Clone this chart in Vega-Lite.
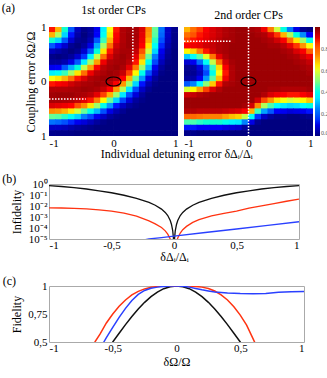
{
"$schema":"https://vega.github.io/schema/vega-lite/v6.json",
"padding":{"left":1,"right":0,"top":2,"bottom":1},
"config":{"font":"Liberation Serif","view":{"stroke":null},
 "axis":{"labelFont":"Liberation Serif","titleFont":"Liberation Serif","labelFontSize":11,"titleFontSize":12,"titleFontWeight":"normal","labelColor":"#000","titleColor":"#000","domainColor":"#999","tickColor":"#999","grid":false},
 "title":{"font":"Liberation Serif","fontSize":12,"fontWeight":"normal","color":"#000"}},
"title":{"text":"(a)","anchor":"start","fontSize":12,"offset":0,"dy":11},
"resolve":{"scale":{"color":"independent"}},
"align":"none",
"spacing":12,
"datasets":{
"h1":[
{"y":0.95,"x":[-0.95,-0.85,-0.75,-0.65,-0.55,-0.45,-0.35,-0.25,-0.15,-0.05,0.05,0.15,0.25,0.35,0.45,0.55,0.65,0.75,0.85,0.95],"v":[0.87,0.70,0.43,0.19,0.06,0.01,0.03,0.11,0.36,0.62,0.87,0.95,0.965,0.96,0.91,0.74,0.48,0.23,0.07,0.015]},
{"y":0.85,"x":[-0.95,-0.85,-0.75,-0.65,-0.55,-0.45,-0.35,-0.25,-0.15,-0.05,0.05,0.15,0.25,0.35,0.45,0.55,0.65,0.75,0.85,0.95],"v":[0.70,0.55,0.33,0.13,0.04,0.0,0.03,0.12,0.39,0.65,0.88,0.95,0.97,0.96,0.90,0.73,0.47,0.21,0.07,0.01]},
{"y":0.75,"x":[-0.95,-0.85,-0.75,-0.65,-0.55,-0.45,-0.35,-0.25,-0.15,-0.05,0.05,0.15,0.25,0.35,0.45,0.55,0.65,0.75,0.85,0.95],"v":[0.43,0.33,0.19,0.08,0.02,0.01,0.05,0.19,0.45,0.70,0.89,0.95,0.97,0.955,0.89,0.70,0.44,0.18,0.06,0.01]},
{"y":0.65,"x":[-0.95,-0.85,-0.75,-0.65,-0.55,-0.45,-0.35,-0.25,-0.15,-0.05,0.05,0.15,0.25,0.35,0.45,0.55,0.65,0.75,0.85,0.95],"v":[0.19,0.13,0.08,0.02,0.0,0.03,0.10,0.29,0.54,0.78,0.92,0.955,0.97,0.95,0.875,0.65,0.39,0.14,0.045,0.006]},
{"y":0.55,"x":[-0.95,-0.85,-0.75,-0.65,-0.55,-0.45,-0.35,-0.25,-0.15,-0.05,0.05,0.15,0.25,0.35,0.45,0.55,0.65,0.75,0.85,0.95],"v":[0.06,0.04,0.02,0.0,0.02,0.08,0.19,0.42,0.65,0.87,0.94,0.96,0.96,0.93,0.82,0.58,0.33,0.11,0.03,0]},
{"y":0.45,"x":[-0.95,-0.85,-0.75,-0.65,-0.55,-0.45,-0.35,-0.25,-0.15,-0.05,0.05,0.15,0.25,0.35,0.45,0.55,0.65,0.75,0.85,0.95],"v":[0.01,0.0,0.01,0.03,0.08,0.15,0.36,0.57,0.78,0.91,0.955,0.97,0.955,0.90,0.74,0.48,0.24,0.09,0.02,0]},
{"y":0.35,"x":[-0.95,-0.85,-0.75,-0.65,-0.55,-0.45,-0.35,-0.25,-0.15,-0.05,0.05,0.15,0.25,0.35,0.45,0.55,0.65,0.75,0.85,0.95],"v":[0.03,0.03,0.05,0.10,0.19,0.36,0.54,0.72,0.89,0.95,0.96,0.965,0.94,0.87,0.65,0.40,0.17,0.06,0.01,0]},
{"y":0.25,"x":[-0.95,-0.85,-0.75,-0.65,-0.55,-0.45,-0.35,-0.25,-0.15,-0.05,0.05,0.15,0.25,0.35,0.45,0.55,0.65,0.75,0.85,0.95],"v":[0.11,0.12,0.19,0.29,0.42,0.57,0.72,0.88,0.94,0.96,0.97,0.955,0.90,0.76,0.53,0.30,0.11,0.03,0,0]},
{"y":0.15,"x":[-0.95,-0.85,-0.75,-0.65,-0.55,-0.45,-0.35,-0.25,-0.15,-0.05,0.05,0.15,0.25,0.35,0.45,0.55,0.65,0.75,0.85,0.95],"v":[0.36,0.39,0.45,0.54,0.65,0.78,0.89,0.94,0.955,0.97,0.96,0.93,0.84,0.63,0.40,0.18,0.07,0.01,0,0]},
{"y":0.05,"x":[-0.95,-0.85,-0.75,-0.65,-0.55,-0.45,-0.35,-0.25,-0.15,-0.05,0.05,0.15,0.25,0.35,0.45,0.55,0.65,0.75,0.85,0.95],"v":[0.62,0.65,0.70,0.78,0.87,0.91,0.95,0.96,0.97,0.96,0.94,0.875,0.70,0.48,0.27,0.10,0.03,0,0,0]},
{"y":-0.05,"x":[-0.95,-0.85,-0.75,-0.65,-0.55,-0.45,-0.35,-0.25,-0.15,-0.05,0.05,0.15,0.25,0.35,0.45,0.55,0.65,0.75,0.85,0.95],"v":[0.87,0.88,0.89,0.92,0.94,0.955,0.96,0.97,0.96,0.94,0.88,0.73,0.53,0.33,0.13,0.05,0.01,0,0,0]},
{"y":-0.15,"x":[-0.95,-0.85,-0.75,-0.65,-0.55,-0.45,-0.35,-0.25,-0.15,-0.05,0.05,0.15,0.25,0.35,0.45,0.55,0.65,0.75,0.85,0.95],"v":[0.95,0.95,0.95,0.955,0.96,0.97,0.965,0.955,0.93,0.875,0.73,0.55,0.35,0.17,0.07,0.02,0,0,0,0]},
{"y":-0.25,"x":[-0.95,-0.85,-0.75,-0.65,-0.55,-0.45,-0.35,-0.25,-0.15,-0.05,0.05,0.15,0.25,0.35,0.45,0.55,0.65,0.75,0.85,0.95],"v":[0.965,0.97,0.97,0.97,0.96,0.955,0.94,0.90,0.84,0.70,0.53,0.35,0.18,0.09,0.03,0,0,0,0,0]},
{"y":-0.35,"x":[-0.95,-0.85,-0.75,-0.65,-0.55,-0.45,-0.35,-0.25,-0.15,-0.05,0.05,0.15,0.25,0.35,0.45,0.55,0.65,0.75,0.85,0.95],"v":[0.96,0.96,0.955,0.95,0.93,0.90,0.87,0.76,0.63,0.48,0.33,0.17,0.09,0.03,0.01,0,0,0,0,0]},
{"y":-0.45,"x":[-0.95,-0.85,-0.75,-0.65,-0.55,-0.45,-0.35,-0.25,-0.15,-0.05,0.05,0.15,0.25,0.35,0.45,0.55,0.65,0.75,0.85,0.95],"v":[0.91,0.90,0.89,0.875,0.82,0.74,0.65,0.53,0.40,0.27,0.13,0.07,0.03,0.01,0,0,0,0,0,0]},
{"y":-0.55,"x":[-0.95,-0.85,-0.75,-0.65,-0.55,-0.45,-0.35,-0.25,-0.15,-0.05,0.05,0.15,0.25,0.35,0.45,0.55,0.65,0.75,0.85,0.95],"v":[0.74,0.73,0.70,0.65,0.58,0.48,0.40,0.30,0.18,0.10,0.05,0.02,0,0,0,0,0,0,0,0]},
{"y":-0.65,"x":[-0.95,-0.85,-0.75,-0.65,-0.55,-0.45,-0.35,-0.25,-0.15,-0.05,0.05,0.15,0.25,0.35,0.45,0.55,0.65,0.75,0.85,0.95],"v":[0.48,0.47,0.44,0.39,0.33,0.24,0.17,0.11,0.07,0.03,0.01,0,0,0,0,0,0,0,0,0]},
{"y":-0.75,"x":[-0.95,-0.85,-0.75,-0.65,-0.55,-0.45,-0.35,-0.25,-0.15,-0.05,0.05,0.15,0.25,0.35,0.45,0.55,0.65,0.75,0.85,0.95],"v":[0.23,0.21,0.18,0.14,0.11,0.09,0.06,0.03,0.01,0,0,0,0,0,0,0,0,0,0,0]},
{"y":-0.85,"x":[-0.95,-0.85,-0.75,-0.65,-0.55,-0.45,-0.35,-0.25,-0.15,-0.05,0.05,0.15,0.25,0.35,0.45,0.55,0.65,0.75,0.85,0.95],"v":[0.07,0.07,0.06,0.045,0.03,0.02,0.01,0,0,0,0,0,0,0,0,0,0,0,0,0]},
{"y":-0.95,"x":[-0.95,-0.85,-0.75,-0.65,-0.55,-0.45,-0.35,-0.25,-0.15,-0.05,0.05,0.15,0.25,0.35,0.45,0.55,0.65,0.75,0.85,0.95],"v":[0.015,0.01,0.01,0.006,0,0,0,0,0,0,0,0,0,0,0,0,0,0,0,0]}
],
"h2":[
{"y":0.95,"x":[-0.95,-0.85,-0.75,-0.65,-0.55,-0.45,-0.35,-0.25,-0.15,-0.05,0.05,0.15,0.25,0.35,0.45,0.55,0.65,0.75,0.85,0.95],"v":[0.70,0.78,0.84,0.88,0.91,0.93,0.95,0.96,0.97,0.97,0.96,0.95,0.89,0.76,0.58,0.41,0.24,0.10,0.02,0.0]},
{"y":0.85,"x":[-0.95,-0.85,-0.75,-0.65,-0.55,-0.45,-0.35,-0.25,-0.15,-0.05,0.05,0.15,0.25,0.35,0.45,0.55,0.65,0.75,0.85,0.95],"v":[0.78,0.82,0.87,0.89,0.91,0.93,0.95,0.96,0.97,0.97,0.97,0.96,0.95,0.91,0.85,0.70,0.55,0.41,0.26,0.12]},
{"y":0.75,"x":[-0.95,-0.85,-0.75,-0.65,-0.55,-0.45,-0.35,-0.25,-0.15,-0.05,0.05,0.15,0.25,0.35,0.45,0.55,0.65,0.75,0.85,0.95],"v":[0.84,0.87,0.88,0.90,0.92,0.94,0.96,0.96,0.97,0.97,0.97,0.97,0.96,0.95,0.92,0.88,0.78,0.65,0.53,0.40]},
{"y":0.65,"x":[-0.95,-0.85,-0.75,-0.65,-0.55,-0.45,-0.35,-0.25,-0.15,-0.05,0.05,0.15,0.25,0.35,0.45,0.55,0.65,0.75,0.85,0.95],"v":[0.88,0.89,0.90,0.92,0.93,0.95,0.96,0.97,0.97,0.97,0.97,0.97,0.97,0.96,0.96,0.94,0.90,0.85,0.73,0.62]},
{"y":0.55,"x":[-0.95,-0.85,-0.75,-0.65,-0.55,-0.45,-0.35,-0.25,-0.15,-0.05,0.05,0.15,0.25,0.35,0.45,0.55,0.65,0.75,0.85,0.95],"v":[0.63,0.67,0.76,0.87,0.92,0.95,0.96,0.97,0.97,0.97,0.97,0.97,0.97,0.97,0.97,0.96,0.95,0.91,0.88,0.80]},
{"y":0.45,"x":[-0.95,-0.85,-0.75,-0.65,-0.55,-0.45,-0.35,-0.25,-0.15,-0.05,0.05,0.15,0.25,0.35,0.45,0.55,0.65,0.75,0.85,0.95],"v":[0.32,0.38,0.47,0.60,0.77,0.90,0.95,0.97,0.97,0.97,0.97,0.97,0.97,0.97,0.97,0.97,0.96,0.95,0.92,0.89]},
{"y":0.35,"x":[-0.95,-0.85,-0.75,-0.65,-0.55,-0.45,-0.35,-0.25,-0.15,-0.05,0.05,0.15,0.25,0.35,0.45,0.55,0.65,0.75,0.85,0.95],"v":[0.08,0.11,0.22,0.39,0.57,0.78,0.92,0.96,0.97,0.97,0.97,0.97,0.97,0.97,0.97,0.97,0.97,0.96,0.95,0.93]},
{"y":0.25,"x":[-0.95,-0.85,-0.75,-0.65,-0.55,-0.45,-0.35,-0.25,-0.15,-0.05,0.05,0.15,0.25,0.35,0.45,0.55,0.65,0.75,0.85,0.95],"v":[0.02,0.03,0.09,0.23,0.45,0.66,0.88,0.95,0.97,0.97,0.97,0.97,0.97,0.97,0.97,0.97,0.97,0.97,0.96,0.95]},
{"y":0.15,"x":[-0.95,-0.85,-0.75,-0.65,-0.55,-0.45,-0.35,-0.25,-0.15,-0.05,0.05,0.15,0.25,0.35,0.45,0.55,0.65,0.75,0.85,0.95],"v":[0.01,0.02,0.06,0.17,0.40,0.62,0.87,0.95,0.97,0.97,0.97,0.97,0.97,0.97,0.97,0.97,0.97,0.97,0.97,0.96]},
{"y":0.05,"x":[-0.95,-0.85,-0.75,-0.65,-0.55,-0.45,-0.35,-0.25,-0.15,-0.05,0.05,0.15,0.25,0.35,0.45,0.55,0.65,0.75,0.85,0.95],"v":[0.03,0.04,0.11,0.27,0.47,0.69,0.89,0.95,0.97,0.97,0.97,0.97,0.97,0.97,0.97,0.97,0.97,0.97,0.97,0.97]},
{"y":-0.05,"x":[-0.95,-0.85,-0.75,-0.65,-0.55,-0.45,-0.35,-0.25,-0.15,-0.05,0.05,0.15,0.25,0.35,0.45,0.55,0.65,0.75,0.85,0.95],"v":[0.19,0.25,0.37,0.51,0.68,0.87,0.95,0.96,0.97,0.97,0.97,0.97,0.97,0.97,0.97,0.97,0.97,0.97,0.97,0.97]},
{"y":-0.15,"x":[-0.95,-0.85,-0.75,-0.65,-0.55,-0.45,-0.35,-0.25,-0.15,-0.05,0.05,0.15,0.25,0.35,0.45,0.55,0.65,0.75,0.85,0.95],"v":[0.59,0.63,0.72,0.84,0.91,0.95,0.97,0.97,0.97,0.97,0.97,0.97,0.97,0.96,0.96,0.95,0.95,0.95,0.95,0.96]},
{"y":-0.25,"x":[-0.95,-0.85,-0.75,-0.65,-0.55,-0.45,-0.35,-0.25,-0.15,-0.05,0.05,0.15,0.25,0.35,0.45,0.55,0.65,0.75,0.85,0.95],"v":[0.92,0.93,0.95,0.96,0.97,0.97,0.97,0.97,0.97,0.97,0.97,0.97,0.95,0.91,0.89,0.88,0.87,0.87,0.88,0.90]},
{"y":-0.35,"x":[-0.95,-0.85,-0.75,-0.65,-0.55,-0.45,-0.35,-0.25,-0.15,-0.05,0.05,0.15,0.25,0.35,0.45,0.55,0.65,0.75,0.85,0.95],"v":[0.97,0.97,0.97,0.97,0.97,0.97,0.97,0.97,0.97,0.97,0.97,0.92,0.83,0.73,0.65,0.62,0.59,0.61,0.63,0.68]},
{"y":-0.45,"x":[-0.95,-0.85,-0.75,-0.65,-0.55,-0.45,-0.35,-0.25,-0.15,-0.05,0.05,0.15,0.25,0.35,0.45,0.55,0.65,0.75,0.85,0.95],"v":[0.97,0.97,0.97,0.97,0.97,0.97,0.97,0.97,0.97,0.96,0.92,0.74,0.55,0.46,0.38,0.35,0.33,0.34,0.37,0.41]},
{"y":-0.55,"x":[-0.95,-0.85,-0.75,-0.65,-0.55,-0.45,-0.35,-0.25,-0.15,-0.05,0.05,0.15,0.25,0.35,0.45,0.55,0.65,0.75,0.85,0.95],"v":[0.95,0.95,0.94,0.94,0.94,0.94,0.93,0.92,0.91,0.88,0.70,0.45,0.28,0.19,0.12,0.11,0.09,0.10,0.11,0.13]},
{"y":-0.65,"x":[-0.95,-0.85,-0.75,-0.65,-0.55,-0.45,-0.35,-0.25,-0.15,-0.05,0.05,0.15,0.25,0.35,0.45,0.55,0.65,0.75,0.85,0.95],"v":[0.79,0.79,0.77,0.75,0.75,0.75,0.72,0.69,0.67,0.57,0.39,0.15,0.07,0.03,0.01,0.01,0.0,0.0,0.01,0.02]},
{"y":-0.75,"x":[-0.95,-0.85,-0.75,-0.65,-0.55,-0.45,-0.35,-0.25,-0.15,-0.05,0.05,0.15,0.25,0.35,0.45,0.55,0.65,0.75,0.85,0.95],"v":[0.46,0.46,0.44,0.43,0.43,0.43,0.40,0.36,0.35,0.25,0.10,0.02,0,0,0,0,0,0,0,0]},
{"y":-0.85,"x":[-0.95,-0.85,-0.75,-0.65,-0.55,-0.45,-0.35,-0.25,-0.15,-0.05,0.05,0.15,0.25,0.35,0.45,0.55,0.65,0.75,0.85,0.95],"v":[0.13,0.13,0.12,0.12,0.12,0.12,0.10,0.09,0.08,0.03,0,0,0,0,0,0,0,0,0,0]},
{"y":-0.95,"x":[-0.95,-0.85,-0.75,-0.65,-0.55,-0.45,-0.35,-0.25,-0.15,-0.05,0.05,0.15,0.25,0.35,0.45,0.55,0.65,0.75,0.85,0.95],"v":[0.01,0.01,0,0,0,0,0,0,0,0,0,0,0,0,0,0,0,0,0,0]}
],
"b":[
{"s":"k","x":[-1,-0.9,-0.8,-0.7,-0.6,-0.5,-0.4,-0.3,-0.2,-0.15,-0.1,-0.07,-0.05,-0.03,-0.02,-0.01,-0.005,-0.003,0,0.003,0.005,0.01,0.02,0.03,0.05,0.07,0.1,0.15,0.2,0.3,0.4,0.5,0.6,0.7,0.8,0.9,1],"v":[0.71,0.59,0.47,0.35,0.24,0.16,0.095,0.05,0.021,0.0117,0.0052,0.0026,0.00135,0.00048,0.00021,0.000054,0.0000135,0.000005,1e-9,0.000005,0.0000135,0.000054,0.00021,0.00048,0.00135,0.0026,0.0052,0.0117,0.021,0.05,0.095,0.16,0.24,0.35,0.47,0.59,0.71]},
{"s":"r","x":[-1,-0.9,-0.8,-0.7,-0.6,-0.5,-0.4,-0.3,-0.2,-0.15,-0.1,-0.07,-0.05,-0.03,-0.02,-0.01,0,0.01,0.02,0.03,0.05,0.07,0.1,0.15,0.2,0.3,0.4,0.5,0.6,0.7,0.8,0.9,1],"v":[0.0068,0.0066,0.0062,0.0055,0.0045,0.0034,0.0022,0.0012,0.00045,0.00024,0.00011,0.000055,0.000028,0.00001,0.0000045,0.0000011,1e-9,0.0000014,0.0000056,0.0000125,0.000035,0.00007,0.00014,0.00032,0.00058,0.00126,0.0021,0.0035,0.0063,0.0105,0.0166,0.027,0.042]},
{"s":"b","x":[-0.3,-0.2,-0.1,0,0.25,0.5,0.75,1],"v":[0.0000063,0.00001,0.0000135,0.0000182,0.000039,0.000081,0.000174,0.00037]}
],
"c":[
{"s":"k","x":[-0.55,-0.5,-0.45,-0.4,-0.35,-0.3,-0.25,-0.2,-0.15,-0.1,-0.05,0,0.05,0.1,0.15,0.2,0.25,0.3,0.35,0.4,0.45,0.5,0.55],"v":[0.422,0.5,0.578,0.655,0.727,0.794,0.854,0.905,0.946,0.976,0.994,1,0.994,0.976,0.946,0.905,0.854,0.794,0.727,0.655,0.578,0.5,0.422]},
{"s":"r","x":[-0.7,-0.66,-0.64,-0.6,-0.55,-0.5,-0.45,-0.4,-0.35,-0.3,-0.25,-0.2,-0.15,-0.1,0,0.1,0.15,0.2,0.25,0.3,0.35,0.4,0.45,0.5,0.55,0.6,0.65],"v":[0.40,0.47,0.50,0.57,0.67,0.75,0.82,0.875,0.92,0.952,0.974,0.988,0.995,0.999,1,0.999,0.996,0.99,0.978,0.955,0.92,0.875,0.815,0.74,0.65,0.53,0.41]},
{"s":"b","x":[-0.6,-0.57,-0.55,-0.5,-0.45,-0.4,-0.35,-0.3,-0.25,-0.2,-0.15,-0.1,-0.05,0,0.05,0.1,0.15,0.2,0.25,0.3,0.4,0.5,0.6,0.7,0.8,0.9,1],"v":[0.44,0.50,0.54,0.63,0.72,0.80,0.87,0.925,0.96,0.98,0.99,0.996,0.999,1,0.998,0.99,0.978,0.966,0.956,0.947,0.937,0.932,0.93,0.934,0.944,0.949,0.95]}
]
},
"vconcat":[
{
 "hconcat":[
  {
   "width":129,"height":109,
   "title":{"text":"1st order CPs","fontSize":12,"offset":4},
   "encoding":{
    "x":{"field":"x","type":"quantitative","scale":{"domain":[-1,1],"nice":false,"zero":false},"axis":{"values":[-1,0,1],"labelExpr":"replace(format(datum.value,'d'),'−','-')","labelFlush":true,"title":null,"ticks":false,"domain":false,"labelPadding":1}},
    "y":{"field":"y","type":"quantitative","scale":{"domain":[-1,1],"nice":false,"zero":false},"axis":{"values":[-1,0,1],"labelExpr":"format(abs(datum.value),'d')","title":"Coupling error δΩ/Ω","ticks":false,"domain":false,"labelPadding":3,"titlePadding":3,"minExtent":0}}
   },
   "layer":[
    {"data":{"name":"h1"},"transform":[{"flatten":["x","v"]}],
     "mark":{"type":"point","shape":"M-1,-0.85H1V0.85H-1Z","size":52,"filled":true,"strokeWidth":0,"opacity":1,"clip":true},
     "encoding":{"color":{"field":"v","type":"quantitative","scale":{"domain":[0,1],"range":["#000080","#0000ff","#0080ff","#00ffff","#80ff80","#ffff00","#ff8000","#ff0000","#800000"]},"legend":null}}},
    {"data":{"values":[{"x":0.3,"x2":0.3,"y":1,"y2":0.35},{"x":-1,"x2":-0.43,"y":-0.32,"y2":-0.32}]},
     "mark":{"type":"rule","color":"white","strokeDash":[1.5,1.5],"strokeWidth":1.5},
     "encoding":{"x2":{"field":"x2"},"y2":{"field":"y2"}}},
    {"data":{"values":[{"x":0,"y":0}]},
     "mark":{"type":"point","shape":"M-1,0A1,0.6,0,1,1,1,0A1,0.6,0,1,1,-1,0Z","size":225,"filled":false,"stroke":"black","strokeWidth":1.2,"opacity":1},
     "encoding":{}}
   ]
  },
  {
   "width":129,"height":109,
   "title":{"text":"2nd order CPs","fontSize":12,"offset":4},
   "encoding":{
    "x":{"field":"x","type":"quantitative","scale":{"domain":[-1,1],"nice":false,"zero":false},"axis":{"values":[-1,0,1],"labelExpr":"replace(format(datum.value,'d'),'−','-')","labelFlush":true,"title":null,"ticks":false,"domain":false,"labelPadding":1}},
    "y":{"field":"y","type":"quantitative","scale":{"domain":[-1,1],"nice":false,"zero":false},"axis":null}
   },
   "layer":[
    {"data":{"name":"h2"},"transform":[{"flatten":["x","v"]}],
     "mark":{"type":"point","shape":"M-1,-0.85H1V0.85H-1Z","size":52,"filled":true,"strokeWidth":0,"opacity":1,"clip":true},
     "encoding":{"color":{"field":"v","type":"quantitative","scale":{"domain":[0,1],"range":["#000080","#0000ff","#0080ff","#00ffff","#80ff80","#ffff00","#ff8000","#ff0000","#800000"]},
       "legend":{"orient":"right","values":[0,0.2,0.4,0.6,0.8],"title":null,"gradientLength":109,"gradientThickness":5,"labelFontSize":6,"labelColor":"#555","labelOffset":1,"offset":2,"direction":"vertical","gradientStrokeWidth":0,"labelFont":"Liberation Serif","labelOverlap":false,"padding":0}}}},
    {"data":{"values":[{"x":0,"x2":0,"y":1,"y2":-1},{"x":-1,"x2":-0.27,"y":0.74,"y2":0.74}]},
     "mark":{"type":"rule","color":"white","strokeDash":[1.5,1.5],"strokeWidth":1.5},
     "encoding":{"x2":{"field":"x2"},"y2":{"field":"y2"}}},
    {"data":{"values":[{"x":0,"y":0}]},
     "mark":{"type":"point","shape":"M-1,0A1,0.6,0,1,1,1,0A1,0.6,0,1,1,-1,0Z","size":225,"filled":false,"stroke":"black","strokeWidth":1.2,"opacity":1},
     "encoding":{}}
   ]
  }
 ],
 "resolve":{"scale":{"color":"independent"}},
 "spacing":6,
 "bounds":"flush",
 "title":{"text":"Individual detuning error δΔᵢ/Δᵢ","orient":"bottom","anchor":"middle","fontSize":12,"offset":1}
},
{
 "vconcat":[
 {
 "width":250,"height":55,
 "title":{"text":"(b)","anchor":"start","fontSize":12,"offset":0,"dy":8,"dx":-8},
 "view":{"stroke":"#aaa"},
 "encoding":{
  "x":{"field":"x","type":"quantitative","scale":{"domain":[-1,1],"nice":false,"zero":false},"axis":{"values":[-1,-0.5,0,0.5,1],"labelExpr":"replace(replace(format(datum.value,'~g'),'.',','),'−','-')","title":"δΔᵢ/Δᵢ","ticks":false,"domain":false,"labelPadding":0,"titlePadding":1}},
  "y":{"field":"v","type":"quantitative","scale":{"type":"log","domain":[0.00001,1],"nice":false},"axis":{"values":[1,0.1,0.01,0.001,0.0001,0.00001],"labelExpr":"['10⁰','10⁻¹','10⁻²','10⁻³','10⁻⁴','10⁻⁵'][round(-log(datum.value)/LN10)]","labelOverlap":false,"title":"Infidelity","ticks":false,"domain":false,"labelPadding":2,"titlePadding":5}}
 },
 "layer":[
  {"mark":{"type":"rule","color":"#bbb","strokeWidth":2.5},"encoding":{"y":{"datum":1},"x":null}},
  {"mark":{"type":"rule","color":"#d0d0d0","strokeWidth":1.5},"encoding":{"y":{"datum":0.0001},"x":null}},
  {"data":{"name":"b"},"transform":[{"flatten":["x","v"]}],
   "mark":{"type":"line","strokeWidth":1.3,"clip":true},
   "encoding":{"color":{"field":"s","type":"nominal","scale":{"domain":["k","r","b"],"range":["#111111","#ff3311","#2a40ff"]},"legend":null}}}
 ]
 },
 {
 "width":255,"height":56,
 "title":{"text":"(c)","anchor":"start","fontSize":12,"offset":0,"dy":8,"dx":-8},
 "view":{"stroke":"#aaa"},
 "encoding":{
  "x":{"field":"x","type":"quantitative","scale":{"domain":[-1,1],"nice":false,"zero":false},"axis":{"values":[-1,-0.5,0,0.5,1],"labelExpr":"replace(replace(format(datum.value,'~g'),'.',','),'−','-')","title":"δΩ/Ω","ticks":false,"domain":false,"labelPadding":0,"titlePadding":3}},
  "y":{"field":"v","type":"quantitative","scale":{"domain":[0.5,1],"nice":false,"zero":false},"axis":{"values":[0.5,0.75,1],"labelExpr":"replace(format(datum.value,'~g'),'.',',')","title":"Fidelity","ticks":false,"domain":false,"labelPadding":2,"titlePadding":4}}
 },
 "layer":[
  {"mark":{"type":"rule","color":"#c8c8c8","strokeWidth":3},"encoding":{"y":{"datum":1},"x":null}},
  {"data":{"name":"c"},"transform":[{"flatten":["x","v"]}],
   "mark":{"type":"line","strokeWidth":1.5,"clip":true},
   "encoding":{"color":{"field":"s","type":"nominal","scale":{"domain":["k","r","b"],"range":["#111111","#ff3311","#2a40ff"]},"legend":null}}}
 ]
 }
 ],
 "spacing":11,
 "align":"none"
}
]
}
